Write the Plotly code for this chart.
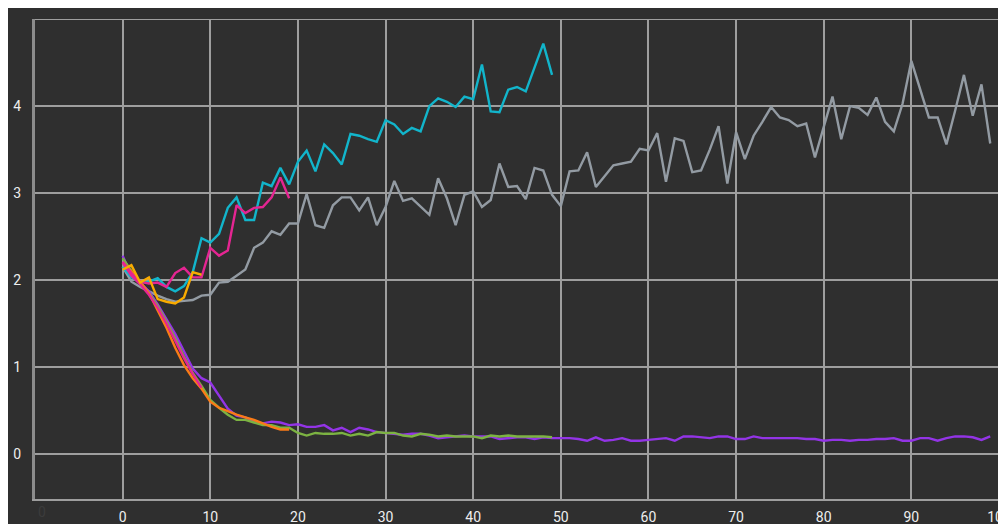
import plotly.graph_objects as go

# ---- data ----
gray_val = [2.15, 1.98, 1.92, 1.87, 1.82, 1.78, 1.75, 1.76, 1.77, 1.82,
            1.83, 1.97, 1.98, 2.05, 2.12, 2.37, 2.43, 2.56, 2.52, 2.65,
            2.65, 2.99, 2.63, 2.60, 2.86, 2.95, 2.95, 2.80, 2.95, 2.63,
            2.84, 3.14, 2.91, 2.94, 2.84, 2.75, 3.17, 2.94, 2.63, 2.98,
            3.02, 2.84, 2.92, 3.34, 3.07, 3.08, 2.93, 3.29, 3.26, 2.98,
            2.85, 3.25, 3.26, 3.47, 3.07, 3.20, 3.32, 3.34, 3.36, 3.51,
            3.49, 3.69, 3.13, 3.63, 3.60, 3.24, 3.26, 3.50, 3.77, 3.11,
            3.70, 3.39, 3.66, 3.82, 3.99, 3.87, 3.84, 3.77, 3.80, 3.41,
            3.76, 4.11, 3.62, 4.00, 3.98, 3.90, 4.10, 3.82, 3.71, 4.03,
            4.52, 4.20, 3.87, 3.87, 3.56, 3.95, 4.36, 3.89, 4.25, 3.57]

purple_val = [2.28, 2.05, 1.97, 1.87, 1.72, 1.55, 1.38, 1.18, 0.98, 0.87,
              0.82, 0.67, 0.52, 0.44, 0.42, 0.37, 0.35, 0.37, 0.36, 0.33,
              0.34, 0.31, 0.31, 0.33, 0.27, 0.30, 0.25, 0.30, 0.28, 0.25,
              0.24, 0.23, 0.22, 0.23, 0.23, 0.21, 0.18, 0.19, 0.20, 0.21,
              0.20, 0.20, 0.20, 0.17, 0.18, 0.19, 0.19, 0.17, 0.19, 0.18,
              0.18, 0.18, 0.17, 0.15, 0.19, 0.15, 0.16, 0.18, 0.15, 0.15,
              0.16, 0.17, 0.18, 0.15, 0.20, 0.20, 0.19, 0.18, 0.20, 0.20,
              0.17, 0.17, 0.20, 0.18, 0.18, 0.18, 0.18, 0.18, 0.17, 0.17,
              0.15, 0.16, 0.16, 0.15, 0.16, 0.16, 0.17, 0.17, 0.18, 0.15,
              0.15, 0.18, 0.18, 0.15, 0.18, 0.20, 0.20, 0.19, 0.16, 0.20]

cyan_val = [2.15, 2.03, 1.97, 1.98, 2.02, 1.92, 1.87, 1.93, 2.09, 2.48,
            2.43, 2.53, 2.83, 2.95, 2.69, 2.69, 3.12, 3.08, 3.29, 3.10,
            3.36, 3.49, 3.25, 3.56, 3.46, 3.33, 3.68, 3.66, 3.62, 3.59,
            3.84, 3.79, 3.68, 3.75, 3.71, 4.00, 4.09, 4.05, 3.99, 4.11,
            4.08, 4.48, 3.94, 3.93, 4.19, 4.22, 4.17, 4.45, 4.72, 4.36]

green_val = [2.25, 2.10, 1.96, 1.85, 1.70, 1.52, 1.33, 1.12, 0.93, 0.78,
             0.62, 0.53, 0.45, 0.39, 0.39, 0.36, 0.33, 0.33, 0.30, 0.30,
             0.24, 0.21, 0.24, 0.23, 0.23, 0.24, 0.21, 0.23, 0.21, 0.25,
             0.24, 0.24, 0.21, 0.20, 0.23, 0.22, 0.20, 0.21, 0.20, 0.20,
             0.20, 0.18, 0.21, 0.20, 0.21, 0.20, 0.20, 0.20, 0.20, 0.19]

pink_val = [2.21, 2.08, 1.98, 1.96, 1.97, 1.92, 2.08, 2.14, 2.03, 2.03,
            2.37, 2.28, 2.34, 2.86, 2.77, 2.83, 2.84, 2.95, 3.18, 2.94]

orange_val = [2.20, 2.10, 1.98, 1.85, 1.65, 1.45, 1.22, 1.02, 0.87, 0.75,
              0.60, 0.53, 0.49, 0.45, 0.42, 0.39, 0.35, 0.31, 0.28, 0.28]

yellow_val = [2.12, 2.17, 1.97, 2.03, 1.78, 1.75, 1.73, 1.80, 2.09, 2.06]

pink2_val = [2.20, 2.05, 1.95, 1.83, 1.68, 1.50, 1.30, 1.10, 0.92, 0.76]

x_ticks = [0, 10, 20, 30, 40, 50, 60, 70, 80, 90, 100]
y_ticks = [0, 1, 2, 3, 4]

series = [
    ("gray", gray_val, "#939ba3"),
    ("purple", purple_val, "#9334e6"),
    ("green", green_val, "#7cb342"),
    ("cyan", cyan_val, "#12b5cb"),
    ("orange", orange_val, "#fa7b17"),
    ("pink", pink_val, "#e52592"),
    ("pink2", pink2_val, "#e52592"),
    ("yellow", yellow_val, "#f9ab00"),
]

fig = go.Figure()
for name, vals, col in series:
    fig.add_trace(go.Scatter(x=list(range(len(vals))), y=vals, mode="lines",
                             name=name, line=dict(color=col, width=2.4),
                             showlegend=False))

DARK = "#2f2f2f"
GRID = "#9e9e9e"
TICKFONT = dict(family="Roboto", size=14, color="#eeeeee")
FAINT = dict(family="Roboto", size=14, color="#3c3c3c")

# page body has an 8px default margin, so the figure is sized to fit the window
fig.update_layout(
    width=998, height=516,
    margin=dict(l=27, r=7, t=11, b=25, autoexpand=False),
    paper_bgcolor=DARK,
    plot_bgcolor=DARK,
    font=dict(family="Roboto", size=14, color="#eeeeee"),
    annotations=[
        dict(x=-9.2, y=0, xref="x", yref="paper", yshift=-13, yanchor="middle",
             text="0", showarrow=False, font=FAINT),
    ],
)

fig.update_xaxes(range=[-10, 100], tickvals=x_ticks, automargin=False,
                 showgrid=True, gridcolor=GRID, gridwidth=1.5,
                 zeroline=False, showline=True, linecolor=GRID, linewidth=1.5,
                 ticks="", ticklabelstandoff=4, tickfont=TICKFONT,
                 ticklabeloverflow="allow")
fig.update_yaxes(range=[-0.52, 5.003], tickvals=y_ticks, automargin=False,
                 showgrid=True, gridcolor=GRID, gridwidth=1.5,
                 zeroline=False, showline=True, linecolor="#8c8c8c", linewidth=3,
                 ticks="", ticklabelstandoff=8, tickfont=TICKFONT,
                 ticklabeloverflow="allow")
# gridline at y=5 (top border)
fig.add_hline(y=5, line=dict(color=GRID, width=1.5), layer="below")

fig.write_html("out.html")
